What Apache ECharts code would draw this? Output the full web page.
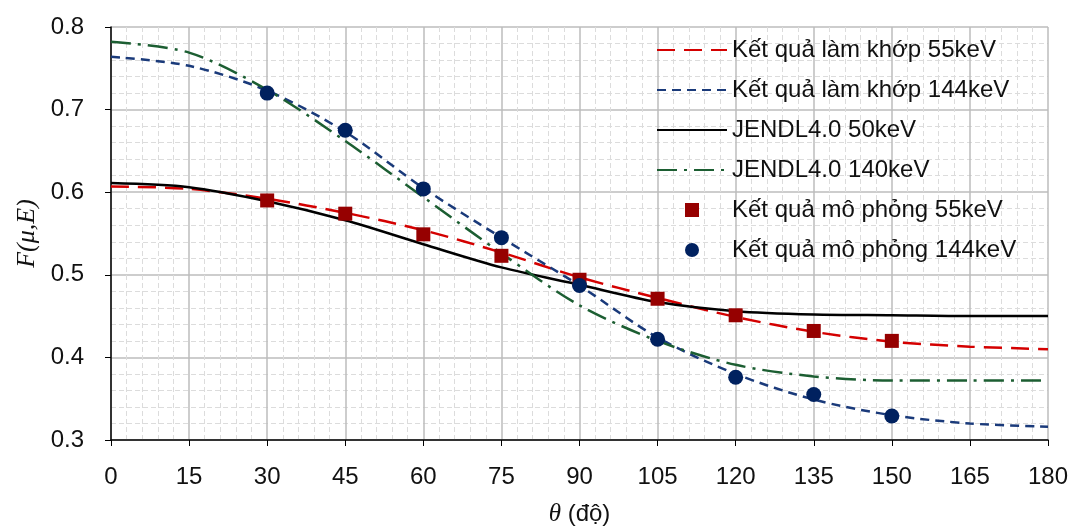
<!DOCTYPE html>
<html>
<head>
<meta charset="utf-8">
<script src="https://cdn.jsdelivr.net/npm/echarts@6/dist/echarts.min.js"></script>
<style>
  html, body { margin: 0; padding: 0; background: #fff; }
  #chart { width: 1074px; height: 526px; }
</style>
</head>
<body>
<div id="chart"></div>
<script>
// góc theta (độ)
const theta = [0, 15, 30, 45, 60, 75, 90, 105, 120, 135, 150, 165, 180];
const fit55 = [0.607, 0.604, 0.592, 0.575, 0.554, 0.527, 0.497, 0.472, 0.449, 0.431, 0.419, 0.413, 0.410];
const fit144 = [0.764, 0.753, 0.723, 0.673, 0.605, 0.545, 0.487, 0.424, 0.380, 0.349, 0.330, 0.320, 0.316];
const jendl50 = [0.611, 0.606, 0.589, 0.566, 0.537, 0.509, 0.488, 0.467, 0.456, 0.452, 0.451, 0.450, 0.450];
const jendl140 = [0.782, 0.769, 0.724, 0.662, 0.594, 0.526, 0.463, 0.420, 0.391, 0.377, 0.372, 0.372, 0.372];

const simTheta = [30, 45, 60, 75, 90, 105, 120, 135, 150];
const sim55 = [0.590, 0.574, 0.549, 0.523, 0.494, 0.471, 0.451, 0.432, 0.420];
const sim144 = [0.720, 0.675, 0.604, 0.545, 0.487, 0.422, 0.376, 0.355, 0.329];

const names = [
  "Kết quả làm khớp 55keV",
  "Kết quả làm khớp 144keV",
  "JENDL4.0 50keV",
  "JENDL4.0 140keV",
  "Kết quả mô phỏng 55keV",
  "Kết quả mô phỏng 144keV"
];

const font = "Liberation Sans";

function pairs(xs, ys) {
  return xs.map((x, i) => [x, ys[i]]);
}

function curve(name, ys, color, dash) {
  return {
    name: name,
    type: "line",
    data: pairs(theta, ys),
    smooth: 0.3,
    symbol: "none",
    lineStyle: { color: color, width: 2.5, type: dash },
    itemStyle: { color: color },
    z: 3
  };
}

const chart = echarts.init(document.getElementById("chart"));

chart.setOption({
  animation: false,
  textStyle: { fontFamily: font },
  grid: { left: 111, right: 26, top: 27, bottom: 86, outerBoundsMode: "none", containLabel: false },
  legend: {
    orient: "vertical",
    left: 651,
    top: 33,
    itemWidth: 70,
    itemHeight: 14,
    itemGap: 16,
    symbolKeepAspect: true,
    textStyle: { fontSize: 24, lineHeight: 24, color: "#111", fontFamily: font },
    data: [
      { name: names[0], itemStyle: { opacity: 0 } },
      { name: names[1], itemStyle: { opacity: 0 } },
      { name: names[2], itemStyle: { opacity: 0 } },
      { name: names[3], itemStyle: { opacity: 0 } },
      { name: names[4], icon: "path://M0,0 L10,0 L10,10 L0,10 Z" },
      { name: names[5], icon: "path://M10,0 A10,10 0 1,1 10,20 A10,10 0 1,1 10,0 Z" }
    ]
  },
  xAxis: {
    type: "value",
    min: 0,
    max: 180,
    interval: 15,
    name: "{i|θ} (độ)",
    nameLocation: "middle",
    nameGap: 62,
    nameTextStyle: {
      fontSize: 24, color: "#111",
      rich: { i: { fontSize: 25, fontStyle: "italic", fontFamily: "Liberation Serif", color: "#111" } }
    },
    axisLine: { lineStyle: { color: "#000", width: 1.5 } },
    axisTick: { show: true, length: 6, lineStyle: { color: "#000" } },
    axisLabel: { fontSize: 24, color: "#111", margin: 25 },
    splitLine: { show: true, lineStyle: { color: "#bdbdbd", width: 1.5 } },
    minorTick: { show: false, splitNumber: 5 },
    minorSplitLine: { show: true, lineStyle: { color: "#dcdcdc", width: 1, type: [5, 3] } }
  },
  yAxis: {
    type: "value",
    min: 0.3,
    max: 0.8,
    interval: 0.1,
    name: "F(μ,E)",
    nameLocation: "middle",
    nameGap: 70,
    nameTextStyle: { fontSize: 26, fontStyle: "italic", fontFamily: "Liberation Serif", color: "#111" },
    axisLine: { show: true, lineStyle: { color: "#000", width: 1.5 } },
    axisTick: { show: true, length: 6, lineStyle: { color: "#000" } },
    axisLabel: {
      fontSize: 24, color: "#111", margin: 27,
      formatter: v => v.toFixed(1)
    },
    splitLine: { show: true, lineStyle: { color: "#bdbdbd", width: 1.5 } },
    minorTick: { show: false, splitNumber: 5 },
    minorSplitLine: { show: true, lineStyle: { color: "#dcdcdc", width: 1, type: [5, 3] } }
  },
  series: [
    curve(names[0], fit55, "#d40000", [18, 9]),
    curve(names[1], fit144, "#1a3a7a", [9, 6]),
    curve(names[2], jendl50, "#000000", "solid"),
    curve(names[3], jendl140, "#1c5e32", [20, 7, 3, 7]),
    {
      name: names[4],
      type: "scatter",
      data: pairs(simTheta, sim55),
      symbol: "rect",
      symbolSize: 14,
      itemStyle: { color: "#960000", opacity: 1 },
      z: 4
    },
    {
      name: names[5],
      type: "scatter",
      data: pairs(simTheta, sim144),
      symbol: "circle",
      symbolSize: 15,
      itemStyle: { color: "#00215f", opacity: 1 },
      z: 4
    }
  ]
});
</script>
</body>
</html>
